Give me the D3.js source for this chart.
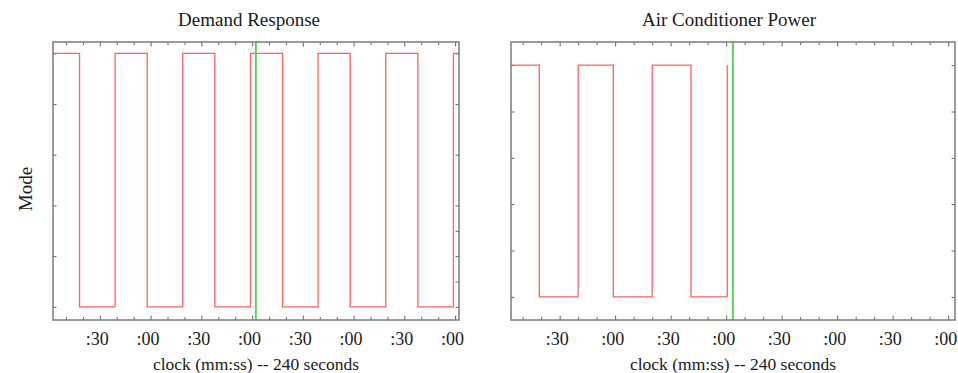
<!DOCTYPE html>
<html>
<head>
<meta charset="utf-8">
<script src="https://cdn.jsdelivr.net/npm/d3@7"></script>
<style>
  html, body { margin: 0; padding: 0; background: #fff; }
  svg text { font-family: "Liberation Serif", "Times New Roman", serif; fill: #1a1a1a; }
  .frame { fill: none; stroke: #7b7b7b; stroke-width: 1.5; }
  .tick line { stroke: #666; }
  .domain { display: none; }
</style>
</head>
<body>
<div id="chart"></div>
<script>
// seconds since the reference minute; mode 1 = on, 0 = off
const drTimes = [2.3, 18, 39, 58, 79, 98, 119, 138, 159, 178, 199, 218, 239, 242.3];
const drModes = [1, 0, 1, 0, 1, 0, 1, 0, 1, 0, 1, 0, 1, 1];
const acTimes = [3.7, 19, 40, 59, 80, 101, 120.6];
const acModes = [1, 0, 1, 0, 1, 0, 1];
const drWindow = [2.3, 242.3], drNow = 122.2;
const acWindow = [3.7, 243.7], acNow = 123.6;
const modeTicks = [0, 0.2, 0.4, 0.6, 0.8, 1];
const xLabel = 'clock (mm:ss) -- 240 seconds';

const W = 958, H = 373;
const serif = '"Liberation Serif", "Times New Roman", serif';
const svg = d3.select('#chart').append('svg').attr('width', W).attr('height', H);

const panels = [
  { title: 'Demand Response', times: drTimes, modes: drModes, win: drWindow, now: drNow,
    x0: 53, x1: 459, yDom: [-0.052, 1.045], yLabel: 'Mode', titleX: 249,
    rightTicks: [0, 0.1, 0.2, 0.3, 0.4, 0.6, 0.8, 1] },
  { title: 'Air Conditioner Power', times: acTimes, modes: acModes, win: acWindow, now: acNow,
    x0: 511, x1: 955, yDom: [-0.1, 1.1], yLabel: null, titleX: 729,
    rightTicks: modeTicks }
];

const plotTop = 42, plotBottom = 320;
const fmt = t => ':' + d3.format('02d')(Math.round(t) % 60);

panels.forEach((p, i) => {
  const x = d3.scaleLinear().domain(p.win).range([p.x0, p.x1]);
  const y = d3.scaleLinear().domain(p.yDom).range([plotBottom, plotTop]);
  const g = svg.append('g');

  const first = Math.ceil(p.win[0] / 10) * 10;
  const minor = d3.range(first, p.win[1], 10).filter(t => t % 30 !== 0);
  const major = d3.range(Math.ceil(p.win[0] / 30) * 30, p.win[1], 30);

  // bottom / top ticks, pointing inwards
  g.append('g').attr('transform', `translate(0,${plotBottom})`)
    .call(d3.axisBottom(x).tickValues(minor).tickSize(-3).tickFormat(''));
  g.append('g').attr('transform', `translate(0,${plotBottom})`)
    .attr('font-family', serif)
    .call(d3.axisBottom(x).tickValues(major).tickSize(-4.5).tickPadding(12).tickFormat(fmt))
    .selectAll('text')
    .attr('dx', -3)
    .attr('font-family', serif)
    .style('font-size', '18px');
  g.append('g').attr('transform', `translate(0,${plotTop})`)
    .call(d3.axisTop(x).tickValues(minor).tickSize(-3).tickFormat(''));
  g.append('g').attr('transform', `translate(0,${plotTop})`)
    .call(d3.axisTop(x).tickValues(major).tickSize(-4.5).tickFormat(''));

  g.append('g').attr('transform', `translate(${p.x0},0)`)
    .call(d3.axisLeft(y).tickValues(modeTicks).tickSize(-3.5).tickFormat(''));
  g.append('g').attr('transform', `translate(${p.x1},0)`)
    .call(d3.axisRight(y).tickValues(p.rightTicks).tickSize(-3.5).tickFormat(''));

  const clipId = 'clip' + i;
  svg.append('clipPath').attr('id', clipId).append('rect')
    .attr('x', p.x0).attr('y', plotTop).attr('width', p.x1 - p.x0).attr('height', plotBottom - plotTop);

  const line = d3.line()
    .x(d => x(d[0])).y(d => y(d[1]))
    .curve(d3.curveStepAfter);

  g.append('path')
    .datum(d3.zip(p.times, p.modes))
    .attr('clip-path', `url(#${clipId})`)
    .attr('fill', 'none')
    .attr('stroke', '#ff5050')
    .attr('stroke-width', 1.3)
    .attr('stroke-opacity', 0.9)
    .attr('d', line);

  g.append('line')
    .attr('x1', x(p.now)).attr('x2', x(p.now))
    .attr('y1', plotTop).attr('y2', plotBottom)
    .attr('stroke', '#5ccf5c').attr('stroke-width', 2);

  g.append('rect').attr('class', 'frame')
    .attr('x', p.x0).attr('y', plotTop).attr('width', p.x1 - p.x0).attr('height', plotBottom - plotTop);

  g.append('text')
    .attr('x', p.titleX).attr('y', 26)
    .attr('text-anchor', 'middle')
    .attr('font-family', serif)
    .style('font-size', '19px')
    .text(p.title);

  g.append('text')
    .attr('x', (p.x0 + p.x1) / 2).attr('y', 370)
    .attr('text-anchor', 'middle')
    .attr('font-family', serif)
    .style('font-size', '17.5px')
    .text(xLabel);

  if (p.yLabel) {
    g.append('text')
      .attr('transform', `translate(32,189) rotate(-90)`)
      .attr('text-anchor', 'middle')
      .attr('font-family', serif)
      .style('font-size', '19px')
      .text(p.yLabel);
  }
});
</script>
</body>
</html>
